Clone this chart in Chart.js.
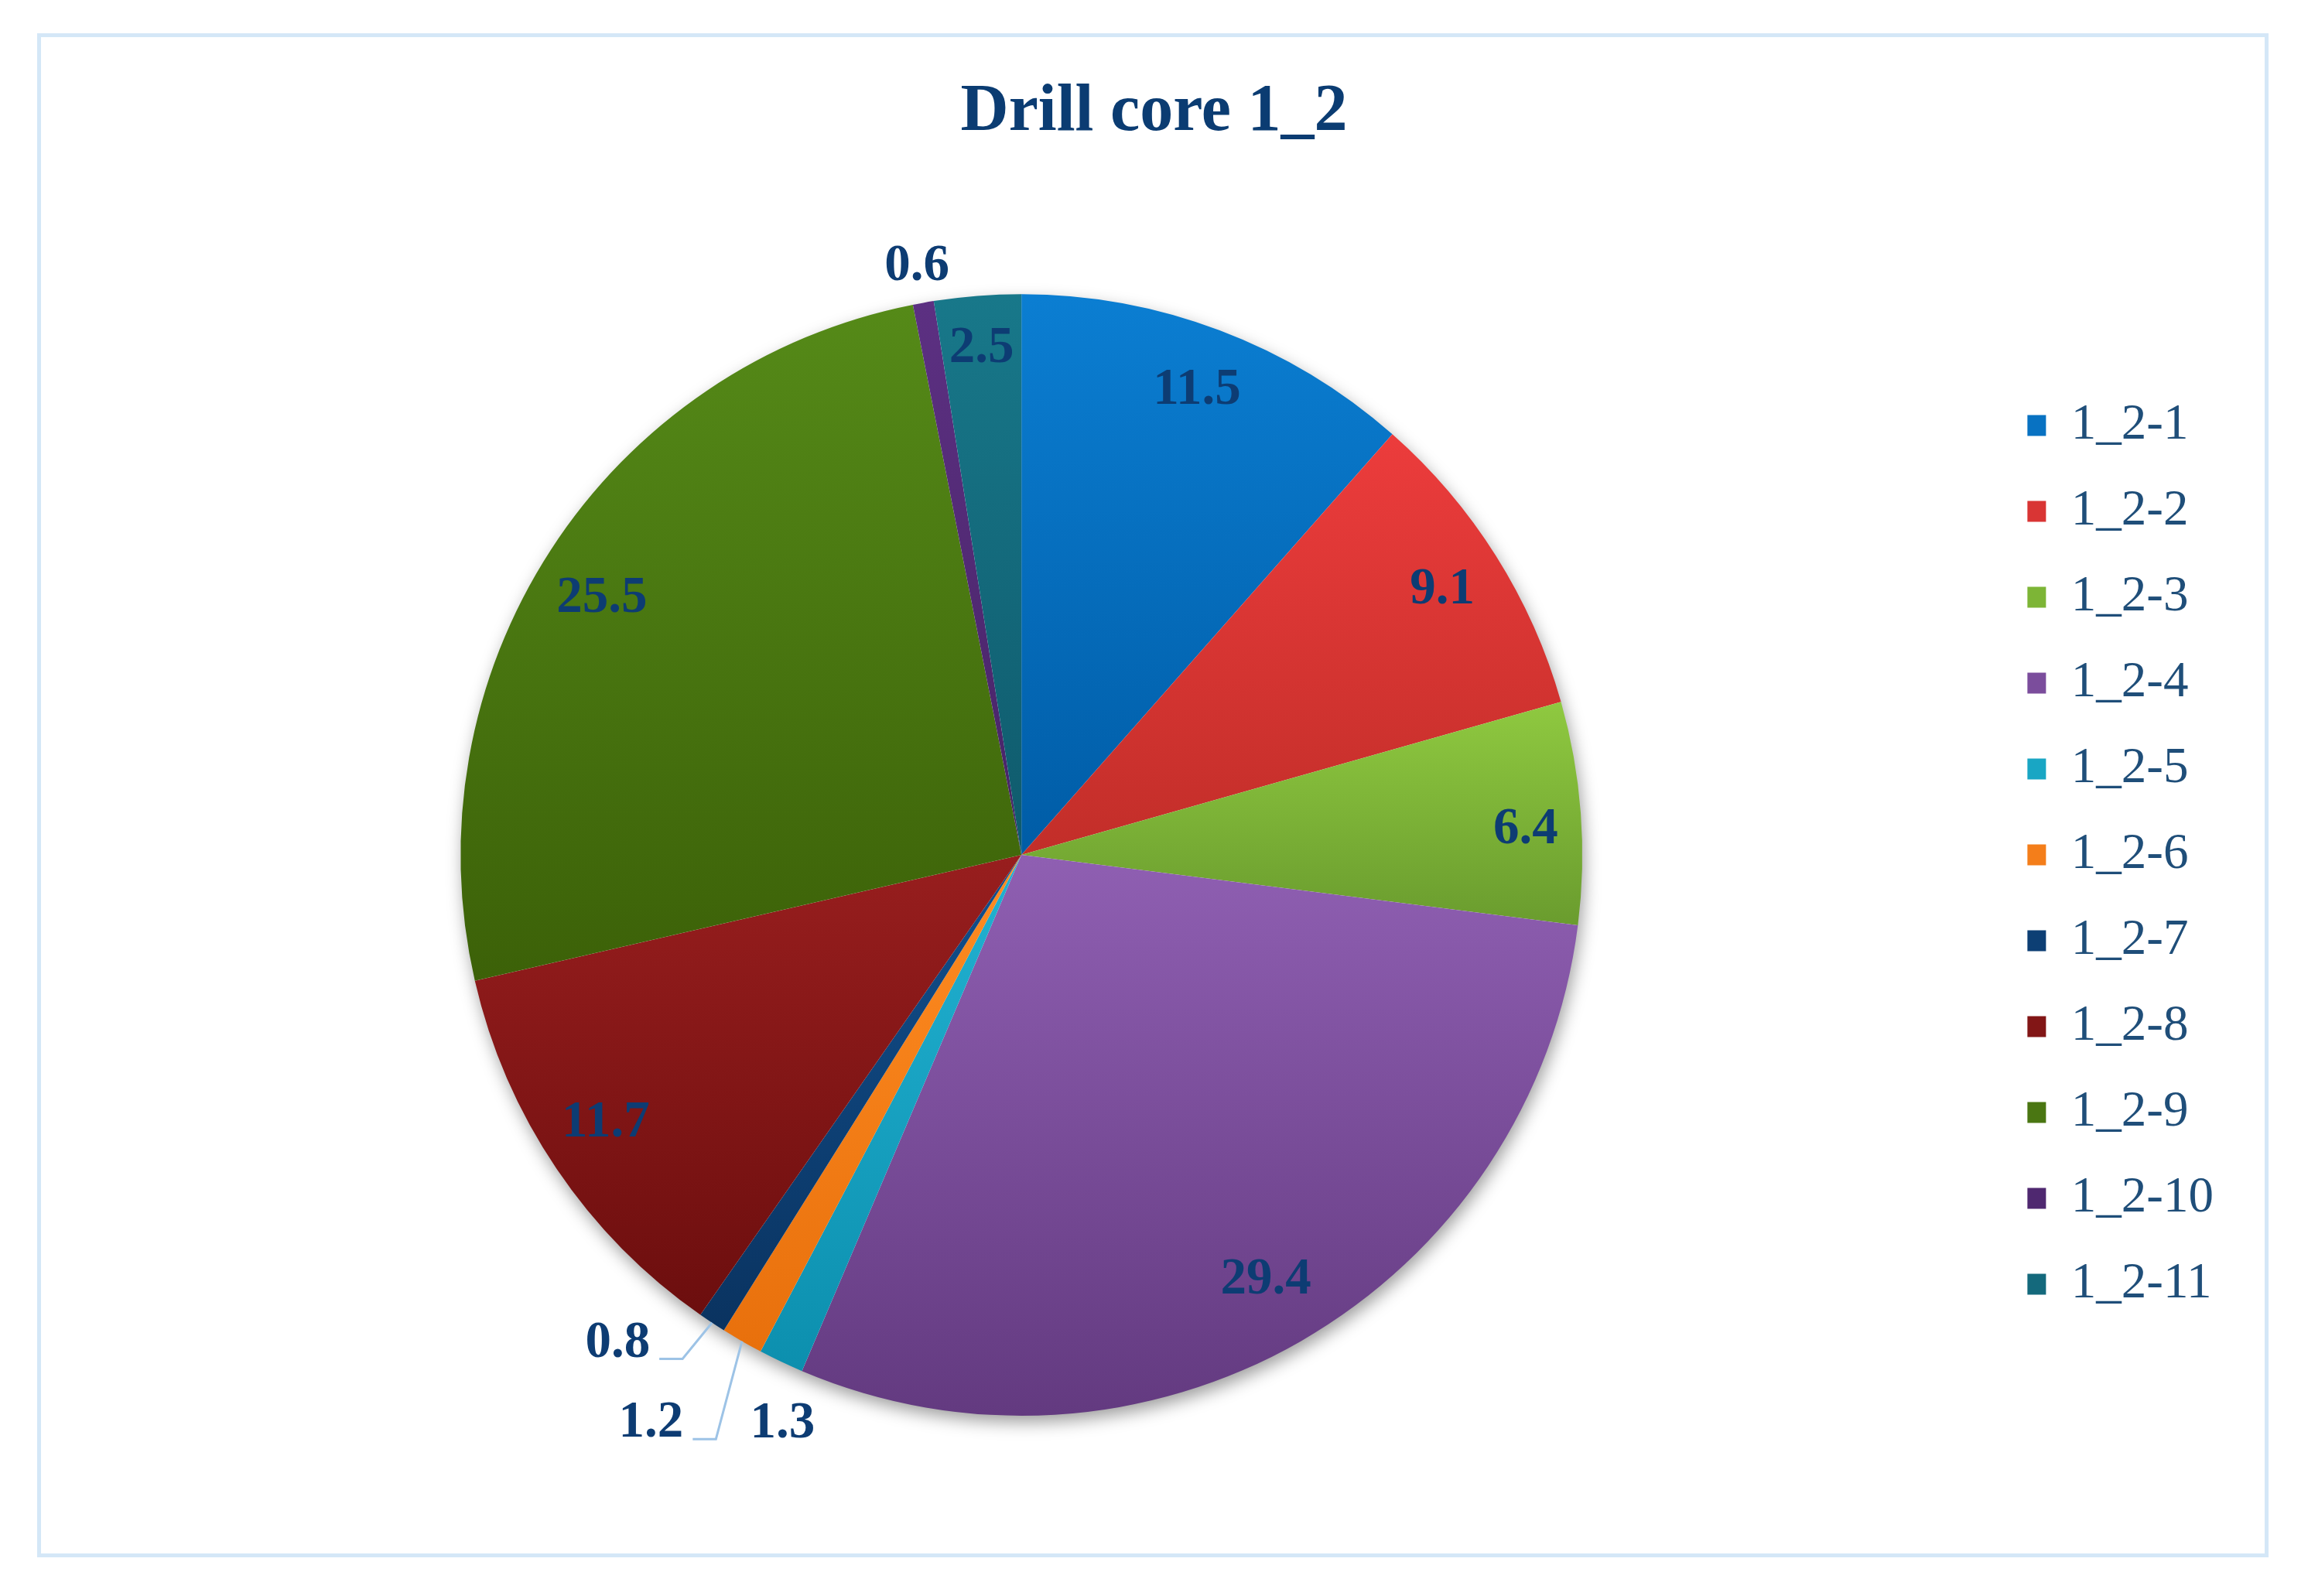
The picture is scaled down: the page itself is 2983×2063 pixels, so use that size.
<!DOCTYPE html>
<html>
<head>
<meta charset="utf-8">
<title>Drill core 1_2</title>
<script src="https://cdn.jsdelivr.net/npm/chart.js@4.4.1/dist/chart.umd.min.js"></script>
<style>
  html, body { margin: 0; padding: 0; background: #fff; }
  body { width: 2983px; height: 2063px; position: relative; overflow: hidden; }
  #frame { position: absolute; left: 48px; top: 43px; width: 2874px; height: 1960px; border: 5px solid #d4e7f7; }
  #chart { position: absolute; left: 0; top: 0; }
</style>
</head>
<body>
<div id="frame"></div>
<canvas id="chart" width="2983" height="2063"></canvas>
<script>
const labels = ["1_2-1", "1_2-2", "1_2-3", "1_2-4", "1_2-5", "1_2-6", "1_2-7", "1_2-8", "1_2-9", "1_2-10", "1_2-11"];
const shares = [11.5, 9.1, 6.4, 29.4, 1.3, 1.2, 0.8, 11.7, 25.5, 0.6, 2.5];

// top / bottom shade of each slice, and the flat legend swatch
const lightColors = ["#0b7ed2", "#ec3c3c", "#8fc940", "#8f5fb2", "#22b2d2", "#ff8c22", "#12508e", "#981e1e", "#558a18", "#5c3082", "#18788a"];
const darkColors = ["#005ca6", "#c22e29", "#6a9c2e", "#633a80", "#0c8fae", "#e8700c", "#0a3360", "#6c0e0e", "#3c6108", "#472466", "#0f5a6c"];
const legendColors = ["#0872c2", "#d93534", "#7db536", "#7b4d9c", "#19a6c4", "#f47e1a", "#0d3f74", "#821616", "#4a7612", "#4f2870", "#14697c"];

// where each value label sits: fraction of the radius, angle nudge in degrees
const labelPlacement = [
  { r: 0.885 }, { r: 0.887 }, { r: 0.9, shift: 1.5 }, { r: 0.875 },
  { r: 1.1, shift: -2.6 },
  { r: 1.21, shift: 3.2, leader: true },
  { r: 1.13, shift: 6.1, leader: true },
  { r: 0.882, shift: 1.2 }, { r: 0.877, shift: -1.5 }, { r: 1.065 }, { r: 0.905 },
];

const FONT = '"Liberation Serif", "Times New Roman", serif';

function sliceFill(context) {
  const i = context.dataIndex;
  const area = context.chart.chartArea;
  if (!area || i === undefined) return legendColors[i] || "#888";
  const cx = (area.left + area.right) / 2;
  const cy = (area.top + area.bottom) / 2;
  const r = Math.min(area.width, area.height) / 2;
  const total = shares.reduce((a, b) => a + b, 0);
  const before = shares.slice(0, i).reduce((a, b) => a + b, 0);
  const a0 = -Math.PI / 2 + (before / total) * 2 * Math.PI;
  const a1 = a0 + (shares[i] / total) * 2 * Math.PI;
  let top = cy;
  let bottom = cy;
  [a0, a1].forEach((a) => {
    const yy = cy + Math.sin(a) * r;
    top = Math.min(top, yy);
    bottom = Math.max(bottom, yy);
  });
  if (a0 <= -Math.PI / 2 + 1e-6 || a1 >= 1.5 * Math.PI - 1e-6) top = cy - r;
  if (a0 <= Math.PI / 2 && a1 >= Math.PI / 2) bottom = cy + r;
  const g = context.chart.ctx.createLinearGradient(0, top, 0, bottom);
  g.addColorStop(0, lightColors[i]);
  g.addColorStop(1, darkColors[i]);
  return g;
}

const sliceLabels = {
  id: "sliceLabels",
  afterLayout(chart) {
    // title is centred on the whole frame, not just beside the legend
    if (chart.titleBlock) {
      chart.titleBlock.left = 0;
      chart.titleBlock.right = chart.width;
    }
  },
  beforeDatasetsDraw(chart) {
    // soft drop shadow under the whole pie
    const arc = chart.getDatasetMeta(0).data[0];
    const ctx = chart.ctx;
    ctx.save();
    ctx.shadowColor = "rgba(0,0,0,0.4)";
    ctx.shadowBlur = 22;
    ctx.shadowOffsetX = 3;
    ctx.shadowOffsetY = 9;
    ctx.fillStyle = "#fff";
    ctx.beginPath();
    ctx.arc(arc.x, arc.y, arc.outerRadius - 1, 0, Math.PI * 2);
    ctx.fill();
    ctx.restore();
  },
  afterDatasetsDraw(chart) {
    const ctx = chart.ctx;
    const meta = chart.getDatasetMeta(0);
    const size = 67;
    ctx.save();
    ctx.font = "bold " + size + "px " + FONT;
    ctx.textAlign = "center";
    ctx.textBaseline = "middle";
    meta.data.forEach((arc, i) => {
      const { x, y, startAngle, endAngle, outerRadius } = arc.getProps(
        ["x", "y", "startAngle", "endAngle", "outerRadius"], true);
      const place = labelPlacement[i];
      const mid = (startAngle + endAngle) / 2;
      const a = mid + ((place.shift || 0) * Math.PI) / 180;
      const lx = x + Math.cos(a) * outerRadius * place.r;
      const ly = y + Math.sin(a) * outerRadius * place.r;
      const text = shares[i].toFixed(1);
      if (place.leader) {
        const w = ctx.measureText(text).width;
        const endX = lx + w / 2 + 12;
        const lineY = ly + size * 0.3;
        ctx.beginPath();
        ctx.moveTo(endX, lineY);
        ctx.lineTo(endX + 30, lineY);
        ctx.lineTo(x + Math.cos(mid) * outerRadius, y + Math.sin(mid) * outerRadius);
        ctx.strokeStyle = "#9dc3e6";
        ctx.lineWidth = 3;
        ctx.stroke();
      }
      ctx.fillStyle = "#0d3c73";
      ctx.fillText(text, lx, ly);
    });
    ctx.restore();
  },
};

new Chart(document.getElementById("chart"), {
  type: "pie",
  data: {
    labels: labels,
    datasets: [
      {
        data: shares,
        backgroundColor: sliceFill,
        borderWidth: 0,
        hoverOffset: 0,
      },
    ],
  },
  options: {
    responsive: false,
    animation: false,
    events: [],
    layout: {
      padding: { top: 0, left: 66, right: 112, bottom: 233 },
    },
    plugins: {
      title: {
        display: true,
        text: "Drill core 1_2",
        color: "#0b3c72",
        font: { family: FONT, size: 86, weight: "bold", lineHeight: 1.2 },
        padding: { top: 94, bottom: 183 },
      },
      legend: {
        position: "right",
        fullSize: false,
        align: "center",
        labels: {
          boxWidth: 24,
          boxHeight: 27,
          padding: 46,
          color: "#1f4e79",
          font: { family: FONT, size: 65 },
          generateLabels(chart) {
            const items = Chart.overrides.pie.plugins.legend.labels.generateLabels(chart);
            return items.map((item, i) => ({ ...item, fillStyle: legendColors[i], lineWidth: 0 }));
          },
        },
      },
      tooltip: { enabled: false },
    },
  },
  plugins: [sliceLabels],
});
</script>
</body>
</html>
